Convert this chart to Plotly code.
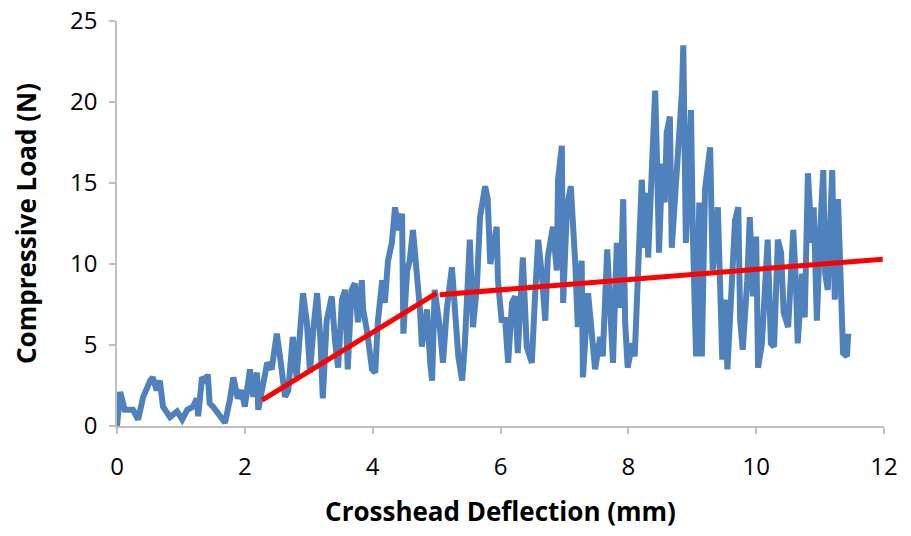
import plotly.graph_objects as go

deflection = [
    0.00, 0.05, 0.12, 0.25, 0.33, 0.41, 0.52, 0.56, 0.62, 0.67, 0.72, 0.83, 0.94, 1.02, 1.10, 1.19,
    1.25, 1.27, 1.33, 1.40, 1.42, 1.45, 1.50, 1.61, 1.69, 1.77, 1.82, 1.89,
    1.95, 2.00, 2.08, 2.13, 2.19, 2.21, 2.27, 2.35, 2.42, 2.50, 2.55, 2.63, 2.68, 2.75, 2.81, 2.86,
    2.91, 2.97, 3.02, 3.07, 3.13, 3.18, 3.22, 3.28, 3.36, 3.41, 3.46, 3.52, 3.57, 3.61, 3.67, 3.72,
    3.77, 3.83,
    3.85, 3.91, 3.99, 4.04, 4.08, 4.15, 4.19, 4.24, 4.30, 4.35, 4.40, 4.46, 4.48, 4.54, 4.58, 4.63,
    4.69, 4.74, 4.77, 4.85, 4.90, 4.93, 4.97, 5.05, 5.10, 5.16, 5.24, 5.29, 5.34, 5.40, 5.44, 5.52,
    5.57, 5.63, 5.68, 5.76,
    5.80, 5.84, 5.88, 5.94, 5.96, 6.02, 6.07, 6.12, 6.18, 6.23, 6.27, 6.35, 6.41, 6.49, 6.54, 6.59,
    6.65, 6.70, 6.74, 6.82, 6.88, 6.90, 6.96, 6.98, 7.04, 7.10, 7.17, 7.21, 7.27, 7.29, 7.37, 7.43,
    7.48, 7.56, 7.60, 7.67, 7.71,
    7.76, 7.82, 7.87, 7.92, 7.95, 7.99, 8.06, 8.10, 8.15, 8.21, 8.26, 8.29, 8.31, 8.37, 8.42, 8.45,
    8.48, 8.53, 8.57, 8.60, 8.65, 8.68, 8.73, 8.78, 8.84, 8.86, 8.90, 8.93, 8.98, 9.01, 9.06, 9.11,
    9.15, 9.20, 9.28, 9.32, 9.40, 9.47, 9.51, 9.55,
    9.62, 9.67, 9.72, 9.75, 9.79, 9.86, 9.90, 9.95, 10.00, 10.03, 10.09, 10.14, 10.18, 10.23, 10.28,
    10.34, 10.39, 10.43, 10.50, 10.54, 10.58, 10.62, 10.65, 10.72, 10.76, 10.81, 10.87, 10.90, 10.95,
    11.00, 11.05, 11.08, 11.12, 11.19, 11.23, 11.28, 11.33, 11.36, 11.42, 11.44,
]
load = [
    0.0, 2.1, 1.0, 1.0, 0.4, 1.8, 2.8, 3.0, 2.2, 2.8, 1.2, 0.55, 0.9, 0.4, 1.0, 1.2,
    1.7, 0.6, 3.0, 2.7, 3.2, 1.4, 1.2, 0.6, 0.2, 1.7, 3.0, 1.7,
    2.2, 1.2, 3.5, 1.8, 3.3, 1.0, 2.2, 3.9, 3.5, 5.7, 4.3, 1.8, 2.2, 5.5, 3.0, 5.5,
    8.2, 6.4, 3.3, 5.9, 8.2, 5.5, 1.7, 6.5, 8.0, 5.3, 3.6, 7.8, 8.4, 3.5, 8.4, 8.8,
    6.4, 9.0,
    7.2, 5.9, 3.5, 3.3, 6.4, 9.0, 7.6, 10.2, 11.3, 13.5, 12.1, 13.1, 5.7, 9.6, 10.2, 12.1,
    9.6, 7.2, 4.9, 7.2, 3.9, 2.8, 8.4, 6.1, 3.9, 7.2, 9.8, 7.2, 4.3, 2.8, 4.9, 11.5,
    6.1, 8.6, 12.9, 14.8,
    14.0, 10.0, 10.9, 12.3, 9.0, 6.4, 6.7, 3.9, 7.6, 8.0, 4.5, 10.4, 4.9, 3.9, 8.0, 11.5,
    9.2, 6.5, 10.4, 12.3, 9.6, 15.2, 17.3, 7.6, 13.5, 14.8, 10.0, 6.1, 10.2, 3.0, 8.2, 5.3,
    3.5, 5.5, 4.3, 10.9, 7.0,
    3.9, 11.3, 7.3, 14.0, 6.4, 3.6, 5.1, 4.3, 10.4, 15.2, 11.0, 14.4, 10.4, 17.2, 20.7, 16.2,
    10.7, 16.2, 13.8, 18.1, 19.1, 11.0, 14.1, 17.0, 20.7, 23.5, 11.3, 14.1, 19.5, 11.7, 4.3, 13.8,
    4.3, 14.6, 17.2, 9.6, 13.5, 4.1, 7.8, 3.5,
    9.0, 12.7, 13.5, 6.5, 4.7, 9.0, 12.9, 8.0, 11.7, 3.6, 5.1, 8.8, 11.5, 5.1, 4.9,
    11.5, 10.7, 7.0, 6.1, 9.0, 12.1, 9.0, 5.1, 9.4, 6.7, 15.6, 11.3, 13.5, 6.5,
    11.9, 15.8, 9.4, 8.4, 15.8, 7.8, 14.0, 8.2, 4.5, 4.3, 5.7,
]

# Two fitted linear segments (red)
fit1_x = [2.27, 5.00]
fit1_y = [1.6, 8.2]
fit2_x = [5.05, 11.98]
fit2_y = [8.1, 10.3]

x_ticks = [0, 2, 4, 6, 8, 10, 12]
y_ticks = [0, 5, 10, 15, 20, 25]

fig = go.Figure()
fig.add_trace(go.Scatter(x=deflection, y=load, mode="lines",
                         line=dict(color="#4F81BD", width=6), showlegend=False))
fig.add_trace(go.Scatter(x=fit1_x, y=fit1_y, mode="lines",
                         line=dict(color="#FF0000", width=5), showlegend=False))
fig.add_trace(go.Scatter(x=fit2_x, y=fit2_y, mode="lines",
                         line=dict(color="#FF0000", width=5), showlegend=False))

axis_font = dict(family="Open Sans, sans-serif", size=24, color="#000000")
title_font = dict(family="Open Sans, sans-serif", size=26, color="#000000")

fig.update_layout(
    width=911, height=536,
    margin=dict(l=117, r=27, t=21, b=110),
    paper_bgcolor="white", plot_bgcolor="white",
    xaxis=dict(range=[0, 12], tickvals=x_ticks, ticks="outside", ticklen=6, tickcolor="#BFBFBF",
               tickwidth=1.5, showline=True, linecolor="#BFBFBF", linewidth=1.5, showgrid=False,
               zeroline=False, tickfont=axis_font, automargin=False, ticklabelstandoff=12,
               title=dict(text="<b>Crosshead Deflection (mm)</b>", font=title_font, standoff=22)),
    yaxis=dict(range=[0, 25], tickvals=y_ticks, ticks="outside", ticklen=6, tickcolor="#BFBFBF",
               tickwidth=1.5, showline=True, linecolor="#BFBFBF", linewidth=1.5, showgrid=False,
               zeroline=False, tickfont=axis_font, automargin=False, ticklabelstandoff=7,
               title=dict(text="<b>Compressive Load (N)</b>", font=title_font, standoff=26)),
)

fig.write_html("out.html", post_script="document.body.style.margin='0';",
               config={"displayModeBar": False})
